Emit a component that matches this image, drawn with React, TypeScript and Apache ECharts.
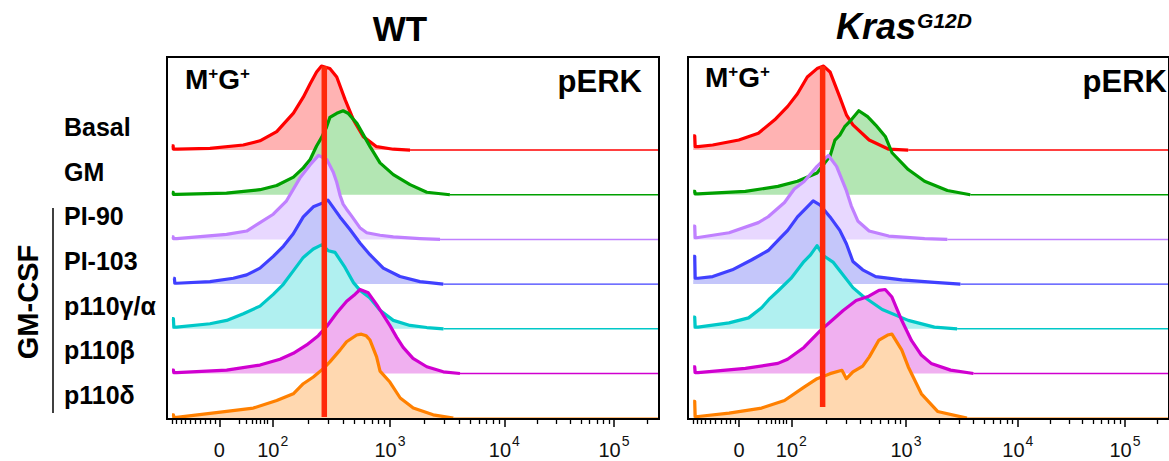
import React, { useEffect, useRef } from "react";
import * as echarts from "echarts";

const FONT = '"Liberation Sans", Arial, Helvetica, sans-serif';

// ---------- axis (channel units of the biexponential display, 0..1000 across a panel) ----------
const CH_MAX = 1000;
const Y_MAX = 431; // % of mode units over the panel height
const ROW_STEP = 53.2; // offset between stacked histograms (% of mode)
const ROW_BASE = 1;

const majorTicks = [106.3, 214.8, 453.2, 685.6, 908.5];
const majorLabels = ["{b|0}", "{b|10}{s|2}", "{b|10}{s|3}", "{b|10}{s|4}", "{b|10}{s|5}"];
const minorTicks = [
  10.8, 19.7, 28.5, 36.6, 46.7, 56.9, 68.5, 78.7, 87.4, 97.6,
  146.3, 162, 173.4, 182.3, 190.4, 197.2, 204.7,
  286.6, 328.6, 358.3, 381.5, 400.4, 416.3, 430.1, 442.3,
  523.2, 564, 593.1, 615.6, 633.9, 649.6, 663, 675,
  752.6, 791.9, 819.7, 841.5, 859.1, 873.9, 886.9, 898.3,
  975.6,
];

// ---------- rows ----------
const rowNames = ["Basal", "GM", "PI-90", "PI-103", "p110γ/α", "p110β", "p110δ"];
const lineColors = ["#ff0000", "#00a000", "#c080ff", "#4040ff", "#00c8c8", "#d000d0", "#ff8000"];
const fillColors = ["#ffb3b3", "#b3e6b3", "#e8d8ff", "#c4c6fa", "#b0f0f0", "#f0b0f0", "#ffd8b0"];

// ---------- WT histograms: [channel, % of mode] ----------
const wtBasal = [[9.6, 5], [12.5, 5], [13, 1], [21.7, 1], [87.4, 2], [155, 6], [189, 11], [223, 22], [257, 44], [277, 63], [291, 79], [304, 93], [314, 100], [331, 97], [345, 87], [362, 60], [379, 36], [399, 16], [426, 4], [460, 1], [494, 0]];
const wtGM = [[10, 3], [12.5, 3], [13, 0.5], [20, 0.5], [121, 2], [189, 6], [223, 11], [257, 21], [277, 32], [291, 42], [304, 58], [314, 68], [324, 80], [331, 92], [345, 97], [358, 100], [368, 97], [386, 85], [413, 57], [433, 38], [460, 24], [494, 12], [528, 3], [575, 0]];
const wtPI90 = [[10, 3], [12.5, 3], [13, 1], [20, 1], [121, 6], [162, 10], [189, 20], [216, 30], [243, 46], [270, 73], [291, 89], [308, 100], [325, 95], [338, 80], [345, 68], [352, 52], [358, 42], [365, 36], [375, 28], [392, 14], [406, 8], [433, 5], [460, 3], [514, 1], [555, 0]];
const wtPI103 = [[12.8, 7], [15, 7], [16, 1], [19.7, 1], [87.4, 3], [134.8, 7], [162, 11], [189, 19], [216, 33], [236.4, 45], [256.7, 60], [277, 80], [297.4, 92], [318, 97], [327.2, 100], [351.5, 80], [371.9, 65], [392.2, 49], [412.5, 35], [439.6, 19], [473.6, 9], [514.2, 3], [561.6, 0]];
const wtGA = [[10.2, 12], [13, 12], [14, 2], [19.7, 2], [87.4, 6], [121.3, 10], [155.1, 18], [189, 27], [216, 41], [236.4, 53], [256.7, 69], [277, 85], [297.4, 95], [311, 99], [315, 100], [327.8, 93], [341.5, 91], [361.8, 73], [379, 55], [392, 46], [412, 37], [433, 22], [460, 10], [494, 4], [528, 1.5], [562, 0]];
const wtBeta = [[10.2, 4], [13, 4], [14, 1], [19.7, 1], [121.3, 4], [189, 10], [229.7, 17], [256.7, 24], [283.9, 34], [307.5, 45], [324.6, 56], [344.9, 72], [365.2, 86], [380, 93], [392.3, 100], [409.1, 96], [426.2, 82], [453.2, 57], [466.9, 43], [480, 31], [500, 18], [528, 8], [561.6, 2], [595.5, 0]];
const wtDelta = [[10.2, 4], [13, 4], [14, 1], [19.7, 1], [121.3, 8], [175.4, 12], [223, 21], [256.7, 29], [277, 41], [297.4, 49], [317.7, 59], [331, 67], [351.6, 81], [365, 91], [385.6, 99], [395, 100], [405, 98], [412.6, 93], [426, 73], [433, 56], [453, 43], [474, 24], [500.6, 12], [541, 4], [582, 0]];

// ---------- KrasG12D histograms ----------
const krBasal = [[10.8, 17], [14, 17], [15, 4], [20.9, 4], [51.4, 6], [105.7, 12], [146.3, 20], [180.3, 36], [207.3, 52], [227.6, 67], [248, 87], [268.3, 97], [281.9, 100], [295.3, 93], [315.6, 63], [329.3, 42], [342.9, 30], [376.6, 12], [417.3, 1], [457.9, 0]];
const krGM = [[10.8, 4], [14, 4], [15, 1], [20.9, 1], [119.3, 4], [187, 10], [227.6, 16], [268.3, 26], [295.3, 46], [305.5, 65], [315.6, 71], [325.8, 81], [336, 87], [355.1, 100], [373.4, 93], [390.2, 83], [410.6, 69], [424.2, 50], [457.9, 30], [491.9, 16], [539.2, 5], [586.8, 0]];
const krPI90 = [[10.8, 16], [14, 16], [15, 2], [17.7, 2], [85.4, 8], [146.3, 20], [166.7, 27], [200.6, 44], [221, 60], [241.3, 69], [268.3, 87], [292, 100], [308.9, 87], [329.3, 58], [339.4, 40], [353, 22], [376.6, 10], [417.3, 4], [491.9, 1], [539.2, 0]];
const krPI103 = [[10.8, 33], [14, 33], [15, 7], [20.9, 7], [51.4, 9], [92.1, 17], [132.7, 29], [166.7, 40], [187, 52], [207.3, 64], [227.6, 80], [244.5, 90], [260.2, 99], [275, 94], [295.3, 80], [315.6, 64], [329.3, 48], [342.9, 27], [363.2, 17], [390.2, 9], [444.5, 5], [512.2, 2], [566.4, 0]];
const krGA = [[10.8, 14], [14, 14], [15, 2], [20.9, 2], [85.4, 7], [126, 13], [153, 25], [170, 36], [187, 45], [214, 60], [241, 80], [254.7, 88], [268.3, 99], [281.9, 87], [302.2, 79], [315.6, 69], [342.9, 49], [363.2, 39], [403.9, 23], [457.9, 10], [512.2, 2], [559.5, 0]];
const krBeta = [[10.8, 8], [14, 8], [15, 1], [20.9, 1], [119.3, 6], [187, 12], [207, 17], [241, 31], [275, 51], [295, 61], [322.6, 75], [349.6, 87], [376, 92], [397, 99], [410, 100], [424, 91], [444.5, 63], [464.8, 39], [485, 22], [505.5, 12], [546, 4], [593.5, 0]];
const krDelta = [[10.8, 20], [14, 20], [15, 2], [20.9, 2], [85.4, 6], [153, 12], [200.6, 21], [241.3, 37], [268.3, 47], [295.3, 53], [320, 57], [329.3, 47], [342.9, 55], [363.2, 62], [377, 73], [397, 93], [415, 99], [424, 100], [444.5, 81], [458, 61], [485.2, 29], [518.9, 8], [579.9, 0]];

const wtRows = [wtBasal, wtGM, wtPI90, wtPI103, wtGA, wtBeta, wtDelta];
const krRows = [krBasal, krGM, krPI90, krPI103, krGA, krBeta, krDelta];

// reference (basal mode) marker: channel, top and bottom in % units
const wtMarker = { ch: 319.7, top: 420, bottom: 2.4 };
const krMarker = { ch: 279.9, top: 420, bottom: 14.3 };

const rowOffset = (i: number) => (rowNames.length - 1 - i) * ROW_STEP + ROW_BASE;

function panelSeries(rows: number[][][], g: number, marker: { ch: number; top: number; bottom: number }) {
  const out: any[] = [];
  rows.forEach((pts, i) => {
    const off = rowOffset(i);
    const last = pts[pts.length - 1];
    out.push({
      type: "line",
      xAxisIndex: g * 2,
      yAxisIndex: g,
      data: [[last[0], off], [CH_MAX, off]],
      symbol: "none",
      silent: true,
      lineStyle: { color: lineColors[i], width: 1.4 },
    });
    out.push({
      type: "line",
      xAxisIndex: g * 2,
      yAxisIndex: g,
      data: pts.map(([c, p]) => [c, p + off]),
      symbol: "none",
      silent: true,
      lineStyle: { color: lineColors[i], width: 3.2, join: "round" },
      areaStyle: { color: fillColors[i], opacity: 1, origin: off },
    });
  });
  out.push({
    type: "line",
    xAxisIndex: g * 2,
    yAxisIndex: g,
    data: [[marker.ch, marker.bottom], [marker.ch, marker.top]],
    symbol: "none",
    silent: true,
    lineStyle: { color: "#ff2a0a", width: 5.5, cap: "butt" },
    z: 5,
  });
  return out;
}

const labelFormatter = (v: number) => {
  let best = 0;
  majorTicks.forEach((t, k) => {
    if (Math.abs(t - v) < Math.abs(majorTicks[best] - v)) best = k;
  });
  return majorLabels[best];
};

function xAxesFor(g: number) {
  return [
    {
      gridIndex: g,
      type: "value",
      min: 0,
      max: CH_MAX,
      position: "bottom",
      axisLine: { show: true, lineStyle: { color: "#000", width: 2 } },
      splitLine: { show: false },
      axisTick: { show: true, customValues: majorTicks, length: 8, lineStyle: { color: "#000", width: 1.5 } },
      axisLabel: {
        customValues: majorTicks,
        formatter: labelFormatter,
        margin: 21,
        color: "#111",
        fontFamily: FONT,
        rich: {
          b: { fontSize: 20, fontFamily: FONT, color: "#111", verticalAlign: "bottom", lineHeight: 20 },
          s: { fontSize: 14, fontFamily: FONT, color: "#111", verticalAlign: "bottom", lineHeight: 14, padding: [0, 0, 12, 1] },
        },
      },
    },
    {
      gridIndex: g,
      type: "value",
      min: 0,
      max: CH_MAX,
      position: "bottom",
      axisLine: { show: false },
      splitLine: { show: false },
      axisTick: { show: true, customValues: minorTicks, length: 5, lineStyle: { color: "#000", width: 1.3 } },
      axisLabel: { show: false },
    },
  ];
}

function yAxisFor(g: number) {
  return {
    gridIndex: g,
    type: "value",
    min: 0,
    max: Y_MAX,
    axisLine: { show: false },
    axisTick: { show: false },
    axisLabel: { show: false },
    splitLine: { show: false },
  };
}

function buildOption() {
  const rowLabelTexts = rowNames.map((name, i) => ({
    type: "text",
    x: 64,
    y: 419 - (rowOffset(i) * 362) / Y_MAX - 23,
    style: { text: name, font: `bold 25px ${FONT}`, fill: "#000", align: "left", verticalAlign: "middle" },
  }));
  const mg = (x: number, y: number) => ({
    type: "text",
    x,
    y,
    style: {
      text: "{m|M}{p|+}{m|G}{p|+}",
      align: "left",
      verticalAlign: "middle",
      rich: {
        m: { fontSize: 28, fontWeight: "bold", fontFamily: FONT, fill: "#000", verticalAlign: "bottom", lineHeight: 28 },
        p: { fontSize: 17, fontWeight: "bold", fontFamily: FONT, fill: "#000", verticalAlign: "bottom", lineHeight: 17, padding: [0, 0, 11, 0] },
      },
    },
    z: 100,
  });
  const perk = (x: number) => ({
    type: "text",
    x,
    y: 81,
    style: { text: "pERK", font: `bold 31px ${FONT}`, fill: "#000", align: "right", verticalAlign: "middle" },
    z: 100,
  });
  return {
    animation: false,
    backgroundColor: "#fff",
    grid: [
      { left: 167, top: 57, width: 492, height: 362, show: true, borderColor: "#000", borderWidth: 2, backgroundColor: "transparent", z: 10 },
      { left: 688, top: 57, width: 492, height: 362, show: true, borderColor: "#000", borderWidth: 2, backgroundColor: "transparent", z: 10 },
    ],
    xAxis: [...xAxesFor(0), ...xAxesFor(1)],
    yAxis: [yAxisFor(0), yAxisFor(1)],
    series: [...panelSeries(wtRows, 0, wtMarker), ...panelSeries(krRows, 1, krMarker)],
    graphic: [
      {
        type: "text",
        x: 400,
        y: 28,
        style: { text: "WT", font: `bold 35px ${FONT}`, fill: "#000", align: "center", verticalAlign: "middle" },
      },
      {
        type: "text",
        x: 836,
        y: 26,
        style: {
          text: "{k|Kras}{g|G12D}",
          align: "left",
          verticalAlign: "middle",
          rich: {
            k: { fontSize: 36, fontWeight: "bold", fontStyle: "italic", fontFamily: FONT, fill: "#000", verticalAlign: "bottom", lineHeight: 36 },
            g: { fontSize: 21, fontWeight: "bold", fontStyle: "italic", fontFamily: FONT, fill: "#000", verticalAlign: "bottom", lineHeight: 21, padding: [0, 0, 13, 1] },
          },
        },
      },
      mg(185, 79),
      mg(705, 77),
      perk(642),
      perk(1167),
      ...rowLabelTexts,
      {
        type: "text",
        x: 28,
        y: 302,
        rotation: Math.PI / 2,
        style: { text: "GM-CSF", font: `bold 29px ${FONT}`, fill: "#000", align: "center", verticalAlign: "middle" },
      },
      {
        type: "line",
        shape: { x1: 53, y1: 208, x2: 53, y2: 413 },
        style: { stroke: "#000", lineWidth: 1.5 },
      },
    ],
  };
}

export default function App() {
  const ref = useRef<HTMLDivElement>(null);
  useEffect(() => {
    if (!ref.current) return;
    const chart = echarts.init(ref.current, undefined, { renderer: "svg" });
    chart.setOption(buildOption() as any);
    return () => chart.dispose();
  }, []);
  return (
    <div
      ref={ref}
      style={{ position: "absolute", left: 0, top: 0, width: 1169, height: 461, overflow: "hidden", background: "#fff" }}
    />
  );
}
